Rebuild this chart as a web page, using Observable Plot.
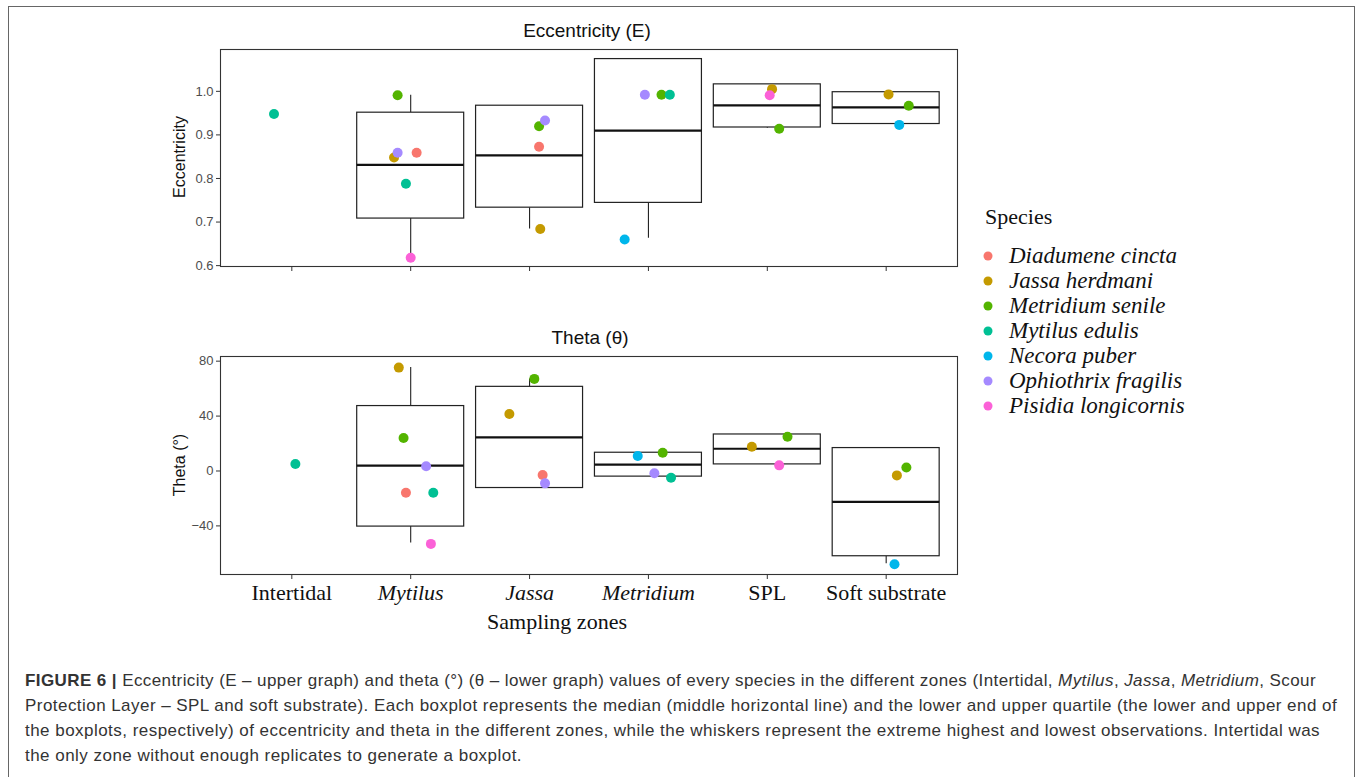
<!DOCTYPE html>
<html>
<head>
<meta charset="utf-8">
<script src="https://cdn.jsdelivr.net/npm/d3@7"></script>
<script src="https://cdn.jsdelivr.net/npm/@observablehq/plot@0.6"></script>
<style>
  html, body { margin: 0; padding: 0; background: #fff; width: 1360px; height: 777px; overflow: hidden; }
  .abs { position: absolute; white-space: nowrap; }
  #frame { position: absolute; left: 8px; top: 6px; width: 1347px; height: 820px; border: 1.5px solid #666; box-sizing: border-box; }
  .title { font-family: "Liberation Sans", Arial, sans-serif; font-size: 19px; color: #111; transform: translate(-50%, -50%); }
  .ylab { font-family: "Liberation Sans", Arial, sans-serif; font-size: 16px; color: #111; transform: translate(-50%, -50%) rotate(-90deg); }
  .serif { font-family: "Liberation Serif", "Times New Roman", serif; color: #111; }
  .leg { font-family: "Liberation Serif", "Times New Roman", serif; font-style: italic; font-size: 23px; color: #111; transform: translateY(-50%); }
  .dot { position: absolute; width: 9px; height: 9px; border-radius: 50%; transform: translate(-50%, -50%); }
  .cap { position: absolute; left: 25px; font-family: "Liberation Sans", Arial, sans-serif; font-size: 17px; line-height: 25px; color: #333; white-space: nowrap; transform: translateY(-50%); }
</style>
</head>
<body>
<div id="frame"></div>
<div id="top" class="abs" style="left:0;top:0"></div>
<div id="bottom" class="abs" style="left:0;top:300px"></div>
<div class="abs title" style="left:587px;top:31px">Eccentricity (E)</div>
<div class="abs title" style="left:590px;top:338px">Theta (θ)</div>
<div class="abs ylab" style="left:180px;top:157px">Eccentricity</div>
<div class="abs ylab" style="left:180px;top:465px">Theta (°)</div>
<div class="abs serif" style="left:557px;top:622px;font-size:22px;transform:translate(-50%,-50%)">Sampling zones</div>
<div id="legend"></div>
<div class="cap" data-w="1291" style="top:680px"><b>FIGURE 6 |</b> Eccentricity (E – upper graph) and theta (°) (θ – lower graph) values of every species in the different zones (Intertidal, <i>Mytilus</i>, <i>Jassa</i>, <i>Metridium</i>, Scour</div>
<div class="cap" data-w="1312" style="top:705px">Protection Layer – SPL and soft substrate). Each boxplot represents the median (middle horizontal line) and the lower and upper quartile (the lower and upper end of</div>
<div class="cap" data-w="1295" style="top:730px">the boxplots, respectively) of eccentricity and theta in the different zones, while the whiskers represent the extreme highest and lowest observations. Intertidal was</div>
<div class="cap" data-w="497" style="top:755px">the only zone without enough replicates to generate a boxplot.</div>
<script>
// ---- categories ----
const zones = ["Intertidal", "Mytilus", "Jassa", "Metridium", "SPL", "Soft substrate"];
const italicZones = ["Mytilus", "Jassa", "Metridium"];
const species = ["Diadumene cincta", "Jassa herdmani", "Metridium senile", "Mytilus edulis", "Necora puber", "Ophiothrix fragilis", "Pisidia longicornis"];
const speciesColors = ["#F8766D", "#C49A00", "#53B400", "#00C094", "#00B6EB", "#A58AFF", "#FB61D7"];

// ---- Eccentricity box statistics per zone (null = no box) ----
const eccMin = [null, 0.618, 0.684, 0.663, 0.915, 0.925];
const eccQ1  = [null, 0.708, 0.733, 0.744, 0.917, 0.925];
const eccMed = [null, 0.831, 0.853, 0.910, 0.968, 0.963];
const eccQ3  = [null, 0.951, 0.967, 1.074, 1.016, 0.998];
const eccMax = [null, 0.991, 0.967, 1.074, 1.016, 0.998];

// ---- Eccentricity points ----
const eccZone = ["Intertidal","Mytilus","Mytilus","Mytilus","Mytilus","Mytilus","Mytilus","Jassa","Jassa","Jassa","Jassa","Metridium","Metridium","Metridium","Metridium","SPL","SPL","SPL","Soft substrate","Soft substrate","Soft substrate"];
const eccSpecies = ["Mytilus edulis","Metridium senile","Ophiothrix fragilis","Jassa herdmani","Diadumene cincta","Mytilus edulis","Pisidia longicornis","Metridium senile","Ophiothrix fragilis","Diadumene cincta","Jassa herdmani","Ophiothrix fragilis","Metridium senile","Mytilus edulis","Necora puber","Jassa herdmani","Pisidia longicornis","Metridium senile","Jassa herdmani","Metridium senile","Necora puber"];
const eccValue = [0.948, 0.991, 0.859, 0.848, 0.859, 0.788, 0.618, 0.920, 0.933, 0.873, 0.684, 0.992, 0.992, 0.992, 0.660, 1.005, 0.991, 0.914, 0.993, 0.967, 0.923];
const eccJitter = [-0.15, -0.11, -0.11, -0.14, 0.05, -0.04, 0.00, 0.08, 0.13, 0.08, 0.09, -0.03, 0.11, 0.18, -0.20, 0.04, 0.02, 0.10, 0.02, 0.19, 0.11];

// ---- Theta box statistics per zone ----
const thMin = [null, -52.4, -12.4, -4.1, 4.8, -67.6];
const thQ1  = [null, -40.5, -12.4, -4.1, 4.8, -62.1];
const thMed = [null, 3.9, 24.5, 4.6, 16.2, -22.5];
const thQ3  = [null, 47.3, 61.3, 13.3, 26.6, 16.7];
const thMax = [null, 75.3, 67.1, 13.3, 26.6, 16.7];

// ---- Theta points ----
const thZone = ["Intertidal","Mytilus","Mytilus","Mytilus","Mytilus","Mytilus","Mytilus","Jassa","Jassa","Jassa","Jassa","Metridium","Metridium","Metridium","Metridium","SPL","SPL","SPL","Soft substrate","Soft substrate","Soft substrate"];
const thSpecies = ["Mytilus edulis","Jassa herdmani","Metridium senile","Ophiothrix fragilis","Diadumene cincta","Mytilus edulis","Pisidia longicornis","Metridium senile","Jassa herdmani","Diadumene cincta","Ophiothrix fragilis","Necora puber","Metridium senile","Ophiothrix fragilis","Mytilus edulis","Jassa herdmani","Metridium senile","Pisidia longicornis","Metridium senile","Jassa herdmani","Necora puber"];
const thValue = [5.1, 75.3, 24.0, 3.4, -15.8, -15.8, -53.1, 67.1, 41.5, -2.9, -9.0, 10.9, 13.3, -1.7, -4.9, 17.7, 24.9, 4.1, 2.6, -3.2, -67.9];
const thJitter = [0.03, -0.10, -0.06, 0.13, -0.04, 0.19, 0.17, 0.04, -0.17, 0.11, 0.13, -0.09, 0.12, 0.05, 0.19, -0.13, 0.17, 0.10, 0.17, 0.09, 0.07];

// ---- tick labels ----
const eccTicks = [0.6, 0.7, 0.8, 0.9, 1.0];
const thTicks = [-40, 0, 40, 80];

function buildBoxes(mins, q1, med, q3, maxs) {
  return zones.map((z, i) => ({i: i + 1, min: mins[i], q1: q1[i], med: med[i], q3: q3[i], max: maxs[i]})).filter(d => d.med != null);
}
function buildPoints(zs, sp, vals, jit) {
  return zs.map((z, k) => ({x: zones.indexOf(z) + 1 + jit[k], y: vals[k], s: sp[k], o: species.indexOf(sp[k])}))
    .sort((a, b) => a.o - b.o);
}

function panel({boxes, points, yDomain, yTicks, yFormat, height, marginTop, marginBottom, showXLabels}) {
  const marks = [
    Plot.frame({stroke: "#333", strokeWidth: 1.1}),
    Plot.ruleX(boxes, {x: "i", y1: "min", y2: "q1", stroke: "#222", strokeWidth: 1.1}),
    Plot.ruleX(boxes, {x: "i", y1: "q3", y2: "max", stroke: "#222", strokeWidth: 1.1}),
    Plot.rect(boxes, {x1: d => d.i - 0.45, x2: d => d.i + 0.45, y1: "q1", y2: "q3", fill: "white", stroke: "#222", strokeWidth: 1.2}),
    Plot.ruleY(boxes, {x1: d => d.i - 0.45, x2: d => d.i + 0.45, y: "med", stroke: "#111", strokeWidth: 2.2}),
    Plot.dot(points, {x: "x", y: "y", fill: "s", r: 5, stroke: null}),
    Plot.axisY({ticks: yTicks, tickFormat: yFormat, tickSize: 4, tickPadding: 3, label: null, fontSize: 13, fill: "#4d4d4d", stroke: "#333"}),
    Plot.axisX({ticks: [1, 2, 3, 4, 5, 6], tickFormat: showXLabels ? (d => zones[d - 1]) : () => "", tickSize: 5, tickPadding: 5, label: null,
      fontSize: 22, fontFamily: "Liberation Serif, Times New Roman, serif", fill: "#111", stroke: "#333"})
  ];
  return Plot.plot({
    width: 970, height, marginLeft: 220, marginRight: 13, marginTop, marginBottom,
    style: {fontFamily: "Liberation Sans, Arial, sans-serif", background: "transparent", overflow: "visible"},
    x: {type: "linear", domain: [0.4, 6.6]},
    y: {domain: yDomain},
    color: {domain: species, range: speciesColors},
    marks
  });
}

const topPlot = panel({
  boxes: buildBoxes(eccMin, eccQ1, eccMed, eccQ3, eccMax),
  points: buildPoints(eccZone, eccSpecies, eccValue, eccJitter),
  yDomain: [0.598, 1.096], yTicks: eccTicks, yFormat: d3.format(".1f"),
  height: 290, marginTop: 49, marginBottom: 24, showXLabels: false
});
document.getElementById("top").appendChild(topPlot);

const botPlot = panel({
  boxes: buildBoxes(thMin, thQ1, thMed, thQ3, thMax),
  points: buildPoints(thZone, thSpecies, thValue, thJitter),
  yDomain: [-75.4, 83.4], yTicks: thTicks, yFormat: d3.format("d"),
  height: 320, marginTop: 56, marginBottom: 46, showXLabels: true
});
document.getElementById("bottom").appendChild(botPlot);

// italic zone names on the x axis
d3.select(botPlot).selectAll('g[aria-label="x-axis tick label"] text').each(function() {
  const t = d3.select(this).text();
  if (italicZones.includes(t)) d3.select(this).attr("font-style", "italic");
});

// ---- legend ----
const legend = document.getElementById("legend");
const head = document.createElement("div");
head.className = "abs serif";
head.style.cssText = "left:985px;top:217px;font-size:22px;transform:translateY(-50%)";
head.textContent = "Species";
legend.appendChild(head);
species.forEach((s, k) => {
  const y = 256 + k * 25;
  const d = document.createElement("div");
  d.className = "dot";
  d.style.cssText = `left:988px;top:${y}px;background:${speciesColors[k]}`;
  legend.appendChild(d);
  const t = document.createElement("div");
  t.className = "abs leg";
  t.style.cssText = `left:1009px;top:${y}px`;
  t.textContent = s;
  legend.appendChild(t);
});

// fit caption lines to the reference line widths via letter spacing
document.querySelectorAll(".cap").forEach(el => {
  const target = +el.dataset.w;
  const w = el.getBoundingClientRect().width;
  const n = el.textContent.length;
  el.style.letterSpacing = ((target - w) / n).toFixed(3) + "px";
});
</script>
</body>
</html>
